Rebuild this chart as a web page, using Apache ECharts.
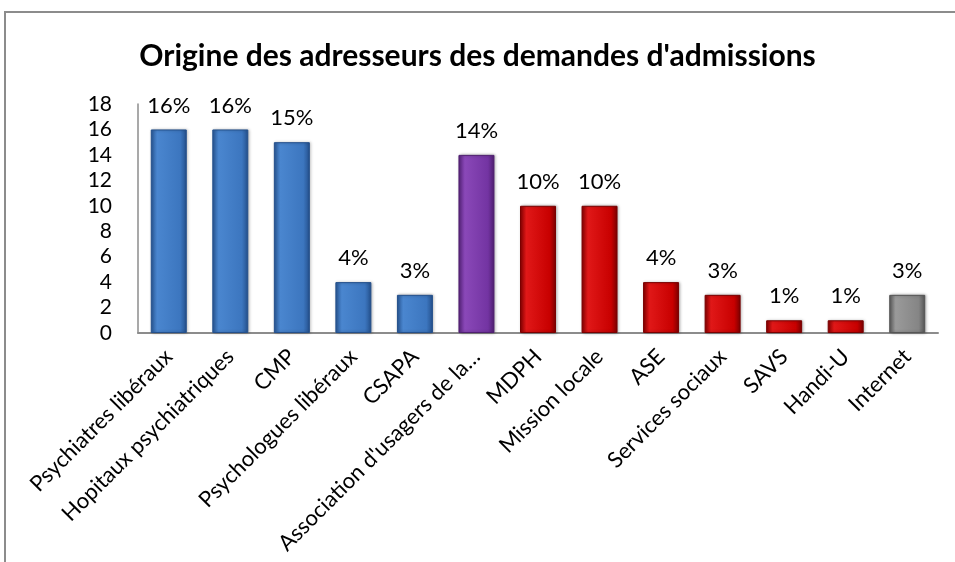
<!DOCTYPE html>
<html><head><meta charset="utf-8">
<script src="https://cdn.jsdelivr.net/npm/echarts@6/dist/echarts.min.js"></script>
<style>html,body{margin:0;padding:0;background:#fff}#c{width:955px;height:562px}
#frame{position:absolute;left:4px;top:11px;width:960px;height:600px;border:2px solid #8c8c8c;box-sizing:border-box;pointer-events:none}</style>
</head><body><div id="c"></div><div id="frame"></div>
<script>
const categories = ["Psychiatres libéraux","Hopitaux psychiatriques","CMP","Psychologues libéraux","CSAPA","Association d'usagers de la…","MDPH","Mission locale","ASE","Services sociaux","SAVS","Handi-U","Internet"];
const values = [16,16,15,4,3,14,10,10,4,3,1,1,3];
const percentLabels = ["16%","16%","15%","4%","3%","14%","10%","10%","4%","3%","1%","1%","3%"];
const groups = ["blue","blue","blue","blue","blue","purple","red","red","red","red","red","red","gray"];
const yTicks = {min:0,max:18,interval:2};

const palette = {
  blue:  ["#2a5a9a","#4a86cf","#3c76bf","#24508c"],
  purple:["#5a2480","#8a48b8","#7334a2","#4f1f70"],
  red:   ["#8a0000","#e01818","#c80000","#7a0000"],
  gray:  ["#5e5e5e","#9a9a9a","#858585","#555555"]
};
function grad(g){
  const p = palette[g];
  return new echarts.graphic.LinearGradient(0,0,1,0,[
    {offset:0,color:p[0]},{offset:0.18,color:p[1]},{offset:0.82,color:p[2]},{offset:1,color:p[3]}
  ]);
}
const FONT = 'Lato, "Open Sans", sans-serif';
const chart = echarts.init(document.getElementById('c'));
chart.setOption({
  animation:false,
  title:{text:"Origine des adresseurs des demandes d'admissions",left:'center',top:36,
    textStyle:{fontFamily:FONT,fontWeight:'bold',fontSize:30,color:'#000'}},
  grid:{left:138,right:17,top:104,bottom:229},
  xAxis:{type:'category',data:categories,
    axisLine:{lineStyle:{color:'#8c8c8c',width:2}},axisTick:{show:false},
    axisLabel:{interval:0,rotate:45,margin:20,fontSize:22,color:'#000',fontFamily:FONT}},
  yAxis:{type:'value',min:yTicks.min,max:yTicks.max,interval:yTicks.interval,
    splitLine:{show:false},axisTick:{show:false},
    axisLine:{show:true,lineStyle:{color:'#8c8c8c',width:1.5}},
    axisLabel:{margin:26,fontSize:21,color:'#000',fontFamily:FONT}},
  series:[{type:'bar',barWidth:36,
    data:values.map((v,i)=>({value:v,itemStyle:{color:grad(groups[i]),borderColor:palette[groups[i]][3],borderWidth:1,
      shadowColor:'rgba(0,0,0,0.3)',shadowBlur:3,shadowOffsetX:1}})),
    label:{show:true,position:'top',distance:13,fontSize:22,color:'#000',fontFamily:FONT,
      formatter:p=>percentLabels[p.dataIndex]}
  }]
});
</script></body></html>
